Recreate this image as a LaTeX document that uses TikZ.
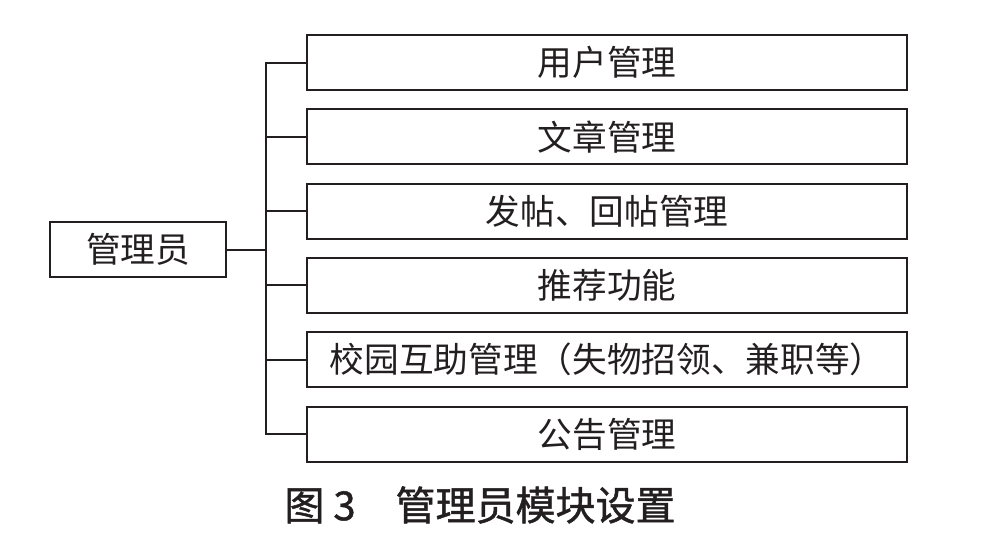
\documentclass[tikz,border=0pt]{standalone}
\usepackage{fontspec}
\setmainfont{Noto Sans CJK SC}
\newfontfamily\capfont[FakeBold=1.2]{Noto Sans CJK SC}
\usepackage{xcolor}
\definecolor{ink}{RGB}{35,31,32}

\begin{document}
\begin{tikzpicture}[x=0.75pt,y=-0.75pt]
\tikzstyle{every node}=[font=\fontsize{26}{30}\selectfont, text=ink]
\tikzstyle{module}=[draw=ink, line width=1.5pt, minimum width=450pt, minimum height=41.25pt, inner sep=0pt]
\tikzstyle{link}=[draw=ink, line width=1.5pt]
\useasboundingbox (0,0) rectangle (986,536);
%\draw[red] (0,0) rectangle (986,536);
    \node[module, minimum width=132pt] (admin) at (138,249.5) {管理员};

    \node[module] (user) at (607,62.5) {用户管理};
    \node[module] (article) at (607,136.8) {文章管理};
    \node[module] (post) at (607,211.1) {发帖、回帖管理};
    \node[module] (recommend) at (607,285.4) {推荐功能};
    \node[module] (campus) at (607,359.7) {校园互助管理（失物招领、兼职等）};
    \node[module] (notice) at (607,434) {公告管理};

    \draw[link] (admin.east) -- (266,249.5) coordinate (bus);
    \draw[link] (user.west) -| (bus);
    \draw[link] (article.west) -| (bus);
    \draw[link] (post.west) -| (bus);
    \draw[link] (recommend.west) -| (bus);
    \draw[link] (campus.west) -| (bus);
    \draw[link] (notice.west) -| (bus);

    \node[font=\fontsize{30}{34}\selectfont\capfont] (caption) at (480,505) {图 3\quad 管理员模块设置};
\end{tikzpicture}
\end{document}
